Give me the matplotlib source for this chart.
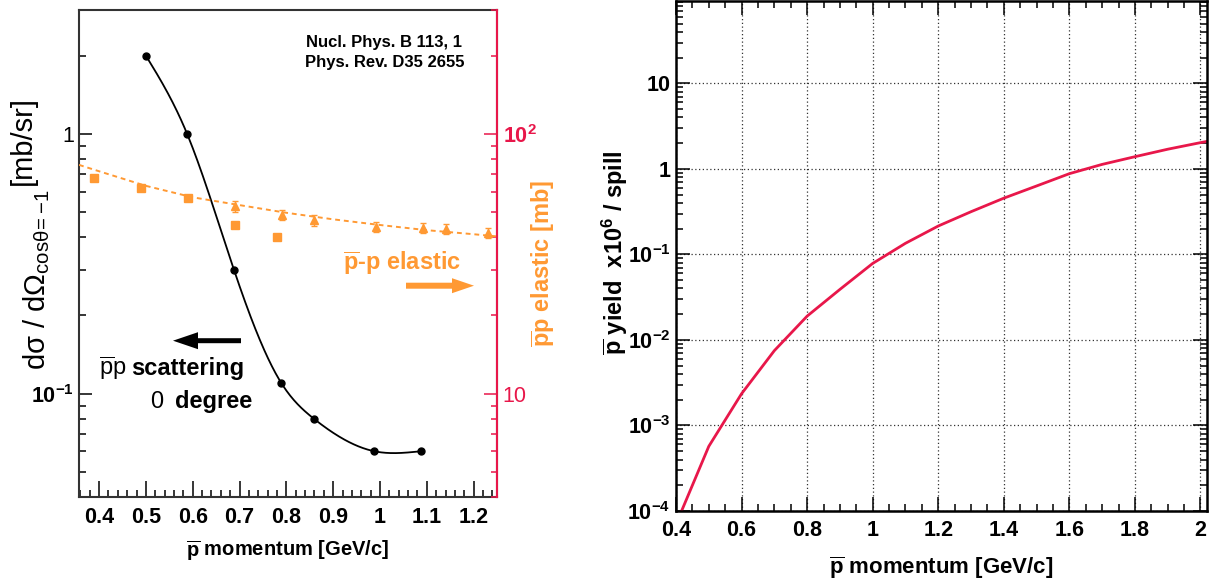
import numpy as np
import matplotlib
matplotlib.use("Agg")
import matplotlib.pyplot as plt
from matplotlib.patches import FancyArrow
from matplotlib.transforms import IdentityTransform
from matplotlib.ticker import FixedLocator, FixedFormatter, MultipleLocator, NullFormatter

plt.rcParams['font.family'] = 'Liberation Sans'
plt.rcParams['mathtext.fontset'] = 'custom'
plt.rcParams['mathtext.rm'] = 'Liberation Sans'
plt.rcParams['mathtext.it'] = 'Liberation Sans:italic'
plt.rcParams['mathtext.bf'] = 'Liberation Sans:bold'
plt.rcParams['mathtext.default'] = 'regular'

ORANGE = '#ff9933'
CRIMSON = '#e8174a'
PBAR = r'$\overline{p}$'

# pbar-p scattering at 0 degree, dsigma/dOmega [mb/sr]
scat_p = [0.500, 0.588, 0.688, 0.789, 0.859, 0.988, 1.087]
scat_xs = [2.00, 1.00, 0.30, 0.110, 0.080, 0.060, 0.060]

# pbar-p elastic cross section [mb]
el_sq_p = [0.389, 0.489, 0.589, 0.690, 0.780]
el_sq_xs = [67.9, 61.8, 56.9, 44.7, 40.2]
el_tri_p = [0.690, 0.790, 0.860, 0.991, 1.091, 1.140, 1.231]
el_tri_xs = [52.7, 48.8, 46.6, 43.8, 43.5, 43.1, 41.7]
el_tri_err = [2.5, 2.3, 2.2, 2.0, 2.0, 2.0, 1.9]
el_fit_p = [0.357, 0.4, 0.5, 0.6, 0.7, 0.8, 0.9, 1.0, 1.1, 1.2, 1.25]
el_fit_xs = [76.0, 71.8, 63.1, 57.0, 53.2, 49.7, 46.9, 44.6, 42.6, 41.1, 40.3]

# pbar yield x10^6 / spill
yield_p = [0.4, 0.5, 0.6, 0.7, 0.8, 0.9, 1.0, 1.1, 1.2, 1.3, 1.4, 1.5, 1.6,
           1.7, 1.8, 1.9, 2.0, 2.1]
yield_n = [7e-5, 5.7e-4, 2.35e-3, 7.5e-3, 1.9e-2, 3.9e-2, 7.85e-2, 0.135,
           0.215, 0.316, 0.455, 0.632, 0.88, 1.13, 1.39, 1.70, 2.03, 2.4]

W, H = 1221, 581


def fx(px):
    return px / W


def fy(py):
    return 1 - py / H


def natural_spline(x, y, n=300):
    x = np.asarray(x, float)
    y = np.asarray(y, float)
    h = np.diff(x)
    N = len(x)
    A = np.zeros((N, N))
    b = np.zeros(N)
    A[0, 0] = A[-1, -1] = 1
    for i in range(1, N - 1):
        A[i, i - 1] = h[i - 1]
        A[i, i] = 2 * (h[i - 1] + h[i])
        A[i, i + 1] = h[i]
        b[i] = 3 * ((y[i + 1] - y[i]) / h[i] - (y[i] - y[i - 1]) / h[i - 1])
    c = np.linalg.solve(A, b)
    xs = np.linspace(x[0], x[-1], n)
    idx = np.clip(np.searchsorted(x, xs) - 1, 0, N - 2)
    dx = xs - x[idx]
    bc = (y[idx + 1] - y[idx]) / h[idx] - h[idx] * (2 * c[idx] + c[idx + 1]) / 3
    d = (c[idx + 1] - c[idx]) / (3 * h[idx])
    return xs, y[idx] + bc * dx + c[idx] * dx ** 2 + d * dx ** 3


fig = plt.figure(figsize=(W / 100, H / 100), dpi=100)

# ---- left: scattering + elastic
ax1 = fig.add_axes([fx(79), fy(497), 418 / W, 487 / H])
ax1.set_yscale('log')
ax1.set_xlim(0.357, 1.25)
ax1.set_ylim(0.04, 3.0)

sx, sy = natural_spline(scat_p, np.log10(scat_xs))
ax1.plot(sx, 10 ** sy, color='black', lw=1.3, zorder=4)
ax1.plot(scat_p, scat_xs, 'o', color='black', ms=5, zorder=5)

ax1.xaxis.set_major_locator(MultipleLocator(0.1))
ax1.xaxis.set_minor_locator(MultipleLocator(0.02))
ax1.xaxis.set_major_formatter(matplotlib.ticker.FormatStrFormatter('%g'))
ax1.yaxis.set_major_locator(FixedLocator([0.1, 1]))
ax1.yaxis.set_major_formatter(FixedFormatter(['10$^{-1}$', '1']))
ax1.yaxis.set_minor_locator(FixedLocator(
    [k * 0.01 for k in range(4, 10)] + [k * 0.1 for k in range(2, 10)] + [2, 3]))
ax1.yaxis.set_minor_formatter(NullFormatter())
ax1.tick_params(axis='x', which='major', direction='in', length=11.5, width=1.1,
                labelsize=15.5, pad=7, top=False)
ax1.tick_params(axis='x', which='minor', direction='in', length=5, width=1.1, top=False)
ax1.tick_params(axis='y', which='major', direction='in', length=9.5, width=1.1,
                labelsize=15.5, pad=3.5, right=False)
ax1.tick_params(axis='y', which='minor', direction='in', length=5, width=1.1, right=False)
for lab in ax1.get_xticklabels():
    lab.set_fontweight('bold')
for lab, w in zip(ax1.get_yticklabels(), ['bold', 'normal']):
    lab.set_fontweight(w)
for s in ax1.spines.values():
    s.set_color('#333333')
    s.set_linewidth(1.5)

ax1.set_xlabel(PBAR + ' momentum [GeV/c]', fontsize=14.5, fontweight='bold', labelpad=8)

ax2 = ax1.twinx()
ax2.set_yscale('log')
ax2.set_ylim(4.0, 300)
ax2.plot(el_fit_p, el_fit_xs, ls=(0, (2.5, 2)), color=ORANGE, lw=1.4)
ax2.plot(el_sq_p, el_sq_xs, 's', color=ORANGE, ms=5.5)
ax2.errorbar(el_tri_p, el_tri_xs, yerr=el_tri_err, fmt='^', color=ORANGE, ms=5.5,
             elinewidth=1, capsize=2, capthick=1)
ax2.yaxis.set_major_locator(FixedLocator([10, 100]))
ax2.yaxis.set_major_formatter(FixedFormatter(['10', '10$^{2}$']))
ax2.yaxis.set_minor_locator(FixedLocator(
    [k for k in range(4, 10)] + [k * 10 for k in range(2, 10)] + [200, 300]))
ax2.yaxis.set_minor_formatter(NullFormatter())
ax2.tick_params(axis='y', which='major', direction='in', length=9.5, width=1.1,
                color=CRIMSON, labelcolor=CRIMSON, labelsize=15.5, pad=4)
ax2.tick_params(axis='y', which='minor', direction='in', length=4.5, width=1.1,
                color=CRIMSON)
for lab, w in zip(ax2.get_yticklabels(), ['normal', 'bold']):
    lab.set_fontweight(w)
ax2.spines['right'].set_color(CRIMSON)
ax2.spines['right'].set_linewidth(1.5)
for k in ['left', 'top', 'bottom']:
    ax2.spines[k].set_visible(False)

fig.text(fx(543), fy(263), PBAR + 'p elastic [mb]', rotation=90, color=ORANGE,
         fontsize=17, fontweight='bold', ha='center', va='center')

# left axis title, drawn in two parts
fig.text(fx(45), fy(370),
         r'd$\sigma$ $/$ d$\Omega_{\mathrm{cos}\theta\!=\!-\!1}$', rotation=90,
         rotation_mode='anchor', ha='left', va='baseline', fontsize=21)
fig.text(fx(31), fy(185), '[mb/sr]', rotation=90, rotation_mode='anchor',
         ha='left', va='baseline', fontsize=21)

fig.text(fx(384), fy(42), 'Nucl. Phys. B 113, 1', fontsize=12, fontweight='bold',
         ha='center', va='center')
fig.text(fx(385), fy(63), 'Phys. Rev. D35 2655', fontsize=12, fontweight='bold',
         ha='center', va='center')
fig.text(fx(343), fy(270), PBAR + '-p elastic', color=ORANGE, fontsize=17,
         fontweight='bold', ha='left', va='baseline')
fig.text(fx(99), fy(375), PBAR + 'p', fontsize=17, ha='left', va='baseline')
fig.text(fx(131), fy(375), 'scattering', fontsize=17, fontweight='bold',
         ha='left', va='baseline')
fig.text(fx(163), fy(408), '0', fontsize=17, ha='right', va='baseline')
fig.text(fx(252), fy(408), 'degree', fontsize=17, fontweight='bold',
         ha='right', va='baseline')

fig.add_artist(FancyArrow(406, H - 285.7, 68, 0, width=6, head_width=15, head_length=22,
                          length_includes_head=True, color=ORANGE, lw=0,
                          transform=IdentityTransform()))
fig.add_artist(FancyArrow(241, H - 340.7, -68, 0, width=5, head_width=17, head_length=25,
                          length_includes_head=True, color='black', lw=0,
                          transform=IdentityTransform()))

# ---- right: yield
ax3 = fig.add_axes([fx(676), fy(511), 531 / W, 510 / H])
ax3.set_yscale('log')
ax3.set_xlim(0.4, 2.02)
ax3.set_ylim(1e-4, 92)
ax3.plot(yield_p, yield_n, color=CRIMSON, lw=2)
ax3.xaxis.set_major_locator(MultipleLocator(0.2))
ax3.xaxis.set_minor_locator(MultipleLocator(0.05))
ax3.xaxis.set_major_formatter(matplotlib.ticker.FormatStrFormatter('%g'))
ydec = [1e-4, 1e-3, 1e-2, 1e-1, 1, 10]
ax3.yaxis.set_major_locator(FixedLocator(ydec))
ax3.yaxis.set_major_formatter(FixedFormatter(
    ['10$^{-4}$', '10$^{-3}$', '10$^{-2}$', '10$^{-1}$', '1', '10']))
ax3.yaxis.set_minor_locator(FixedLocator(
    [d * k for d in ydec for k in range(2, 10)]))
ax3.yaxis.set_minor_formatter(NullFormatter())
ax3.grid(True, which='major', color='#333333', ls=(0, (1, 2)), lw=0.9)
ax3.tick_params(which='major', direction='in', length=10, width=1.1, labelsize=15.5,
                top=True, right=True)
ax3.tick_params(which='minor', direction='in', length=5, width=1.1, top=True, right=True)
ax3.tick_params(axis='x', pad=6.5)
ax3.tick_params(axis='y', pad=4)
for lab in ax3.get_xticklabels() + ax3.get_yticklabels():
    lab.set_fontweight('bold')
for s in ax3.spines.values():
    s.set_color('black')
    s.set_linewidth(1.8)
ax3.set_xlabel(PBAR + ' momentum [GeV/c]', fontsize=16, fontweight='bold', labelpad=10)
fig.text(fx(615), fy(253), PBAR + ' yield  x10$^{6}$ / spill', rotation=90,
         fontsize=17, fontweight='bold', ha='center', va='center')

fig.savefig('out.png', dpi=100)
